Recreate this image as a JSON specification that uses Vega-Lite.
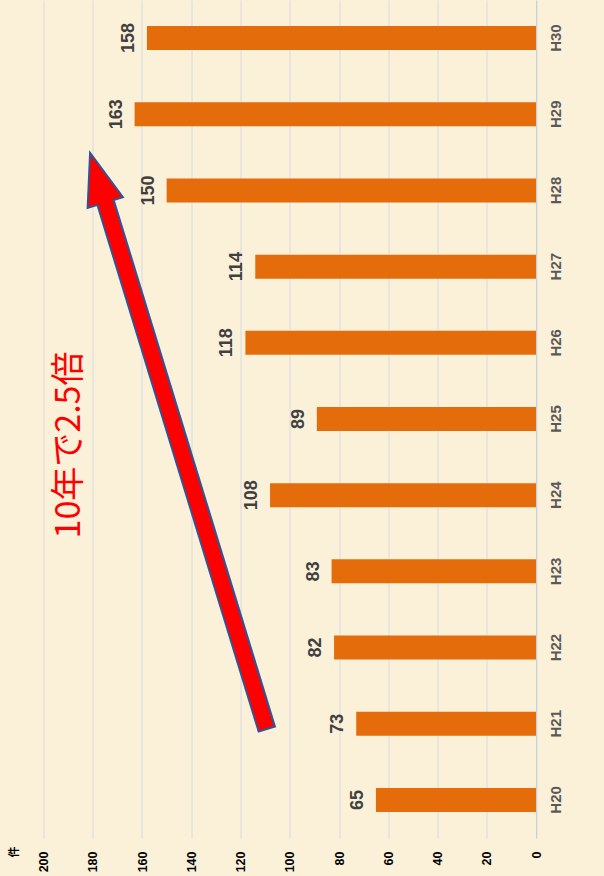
{
  "$schema": "https://vega.github.io/schema/vega-lite/v6.json",
  "width": 492.5,
  "height": 838,
  "autosize": {"type": "none"},
  "padding": {"left": 43.5, "top": 0, "right": 68, "bottom": 38},
  "background": "#fbf1d9",
  "config": {"view": {"stroke": null}},
  "datasets": {
    "bars": [
      {"year": "H20", "v": 65},
      {"year": "H21", "v": 73},
      {"year": "H22", "v": 82},
      {"year": "H23", "v": 83},
      {"year": "H24", "v": 108},
      {"year": "H25", "v": 89},
      {"year": "H26", "v": 118},
      {"year": "H27", "v": 114},
      {"year": "H28", "v": 150},
      {"year": "H29", "v": 163},
      {"year": "H30", "v": 158}
    ],
    "shaft": [{"v": 109.2, "yi": 0.918}, {"v": 174.8, "yi": 7.842}],
    "shaftRed": [{"v": 109.5, "yi": 0.943}, {"v": 175.3, "yi": 7.892}],
    "head": [{"v": 178.0, "yi": 8.167}],
    "note": [{"v": 189.2, "yi": 4.659, "t": "10年で2.5倍"}]
  },
  "layer": [
    {
      "data": {"name": "bars"},
      "mark": {"type": "bar", "color": "#e46c0a"},
      "encoding": {
        "x": {
          "field": "v", "type": "quantitative",
          "scale": {"domain": [0, 200], "reverse": true, "nice": false, "zero": true},
          "axis": {
            "values": [0, 20, 40, 60, 80, 100, 120, 140, 160, 180, 200],
            "orient": "bottom",
            "labelAngle": 270,
            "labelAlign": "right",
            "labelBaseline": "middle",
            "labelPadding": 13,
            "labelFont": "Liberation Sans, Arial, sans-serif",
            "labelFontWeight": "bold",
            "labelFontSize": 12.5,
            "labelColor": "#000000",
            "ticks": false,
            "domain": false,
            "grid": true,
            "gridColor": "#d5dae3",
            "gridWidth": 1,
            "title": "件",
            "titleAngle": 270,
            "titleX": -29,
            "titleY": 8,
            "titleAlign": "right",
            "titleBaseline": "middle",
            "titleFont": "Noto Sans CJK JP",
            "titleFontSize": 11,
            "titleFontWeight": "bold",
            "titleColor": "#000000"
          }
        },
        "y": {
          "field": "year", "type": "nominal", "sort": "descending",
          "scale": {"paddingInner": 0.685, "paddingOuter": 0.3425},
          "axis": {
            "orient": "right",
            "title": null,
            "labelAngle": 270,
            "labelAlign": "center",
            "labelBaseline": "top",
            "labelPadding": 12,
            "labelFont": "Liberation Sans, Arial, sans-serif",
            "labelFontWeight": "bold",
            "labelFontSize": 15,
            "labelColor": "#595959",
            "ticks": false,
            "domain": true,
            "domainColor": "#c9d0dc",
            "grid": false
          }
        }
      }
    },
    {
      "data": {"name": "bars"},
      "mark": {
        "type": "text", "angle": 270, "align": "center", "baseline": "middle", "dy": -18,
        "font": "Liberation Sans, Arial, sans-serif",
        "fontWeight": "bold", "fontSize": 18, "color": "#404040"
      },
      "encoding": {
        "x": {"field": "v", "type": "quantitative"},
        "y": {
          "field": "year", "type": "nominal", "sort": "descending",
          "scale": {"paddingInner": 0.685, "paddingOuter": 0.3425},
          "axis": null
        },
        "text": {"field": "v", "type": "quantitative"}
      }
    },
    {
      "data": {"name": "shaft"},
      "mark": {"type": "line", "color": "#2f5597", "strokeWidth": 19, "strokeCap": "butt"},
      "encoding": {
        "x": {"field": "v", "type": "quantitative"},
        "y": {"field": "yi", "type": "quantitative", "scale": {"domain": [-0.5, 10.5], "nice": false, "zero": false}, "axis": null}
      }
    },
    {
      "data": {"name": "head"},
      "mark": {
        "type": "point", "shape": "M0,-1L0.71,1L-0.71,1Z", "size": 2704,
        "filled": true, "fill": "#ff0000", "stroke": "#2f5597", "strokeWidth": 2,
        "angle": -17, "opacity": 1, "fillOpacity": 1, "strokeOpacity": 1
      },
      "encoding": {
        "x": {"field": "v", "type": "quantitative"},
        "y": {"field": "yi", "type": "quantitative", "scale": {"domain": [-0.5, 10.5], "nice": false, "zero": false}, "axis": null}
      }
    },
    {
      "data": {"name": "shaftRed"},
      "mark": {"type": "line", "color": "#ff0000", "strokeWidth": 15, "strokeCap": "butt"},
      "encoding": {
        "x": {"field": "v", "type": "quantitative"},
        "y": {"field": "yi", "type": "quantitative", "scale": {"domain": [-0.5, 10.5], "nice": false, "zero": false}, "axis": null}
      }
    },
    {
      "data": {"name": "note"},
      "mark": {
        "type": "text", "angle": 270, "align": "center", "baseline": "middle",
        "font": "Noto Sans CJK JP", "fontSize": 34, "color": "#ff0000"
      },
      "encoding": {
        "x": {"field": "v", "type": "quantitative"},
        "y": {"field": "yi", "type": "quantitative", "scale": {"domain": [-0.5, 10.5], "nice": false, "zero": false}, "axis": null},
        "text": {"field": "t", "type": "nominal"}
      }
    }
  ],
  "resolve": {"scale": {"y": "independent"}, "axis": {"y": "independent"}}
}
